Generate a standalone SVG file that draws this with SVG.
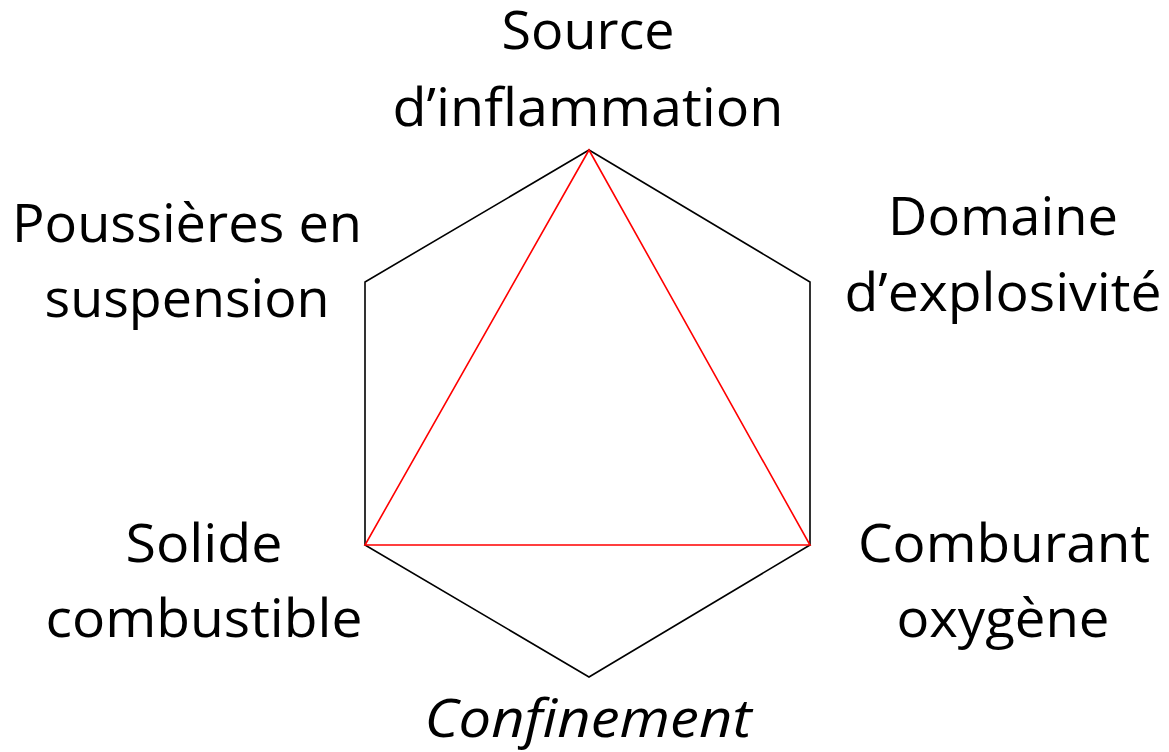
<svg xmlns="http://www.w3.org/2000/svg" width="1169" height="752" viewBox="0 0 1169 752">
  <style>
    .lbl { font-family: "Open Sans", "Liberation Sans", sans-serif; font-size: 53px; fill: #000; text-anchor: middle; }
    .it { font-style: italic; }
    .hex { fill: none; stroke: #000; stroke-width: 1.6; }
    .tri { fill: none; stroke: #ff0000; stroke-width: 1.6; }
  </style>
  <rect width="1169" height="752" fill="#fff"/>
  <g id="connectors">
    <polygon class="hex" points="589,150 810,282 810,545 589,677 365,545 365,282"/>
    <polygon class="tri" points="589,150 810,545 365,545"/>
  </g>
  <g id="source">
    <text class="lbl" x="588" y="49" textLength="173" lengthAdjust="spacingAndGlyphs">Source</text>
    <text class="lbl" x="588" y="126" textLength="391" lengthAdjust="spacingAndGlyphs">d’inflammation</text>
  </g>
  <g id="poussieres">
    <text class="lbl" x="187" y="242" textLength="350" lengthAdjust="spacingAndGlyphs">Poussières en</text>
    <text class="lbl" x="187" y="317" textLength="285" lengthAdjust="spacingAndGlyphs">suspension</text>
  </g>
  <g id="domaine">
    <text class="lbl" x="1003" y="235" textLength="230" lengthAdjust="spacingAndGlyphs">Domaine</text>
    <text class="lbl" x="1003" y="311" textLength="317" lengthAdjust="spacingAndGlyphs">d’explosivité</text>
  </g>
  <g id="solide">
    <text class="lbl" x="204" y="562" textLength="157" lengthAdjust="spacingAndGlyphs">Solide</text>
    <text class="lbl" x="204" y="637" textLength="317" lengthAdjust="spacingAndGlyphs">combustible</text>
  </g>
  <g id="comburant">
    <text class="lbl" x="1004" y="562" textLength="292" lengthAdjust="spacingAndGlyphs">Comburant</text>
    <text class="lbl" x="1003" y="637" textLength="213" lengthAdjust="spacingAndGlyphs">oxygène</text>
  </g>
  <g id="confinement">
    <text class="lbl it" x="588" y="737" textLength="327" lengthAdjust="spacingAndGlyphs">Confinement</text>
  </g>
</svg>
